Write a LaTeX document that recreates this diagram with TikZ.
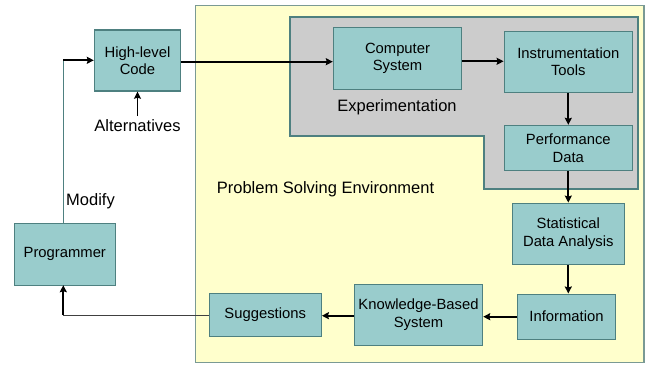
\documentclass[tikz,border=0pt]{standalone}
\usepackage{fontspec}
\setmainfont{Liberation Sans}
\usetikzlibrary{arrows.meta}
\definecolor{boxfill}{HTML}{99CCCC}
\definecolor{boxline}{HTML}{4E8080}
\definecolor{envfill}{HTML}{FFFFCC}
\definecolor{envline}{HTML}{7A9A94}
\definecolor{expfill}{HTML}{CCCCCC}
\tikzset{
  block/.style={draw=boxline, line width=1.4pt, fill=boxfill, inner sep=0pt,
    align=center, font=\fontsize{14.8}{17.5}\selectfont},
  label text/.style={inner sep=0pt, font=\fontsize{16.5}{19}\selectfont},
  flow/.style={line width=1.9pt, -{Stealth[length=7pt,width=7pt,inset=1pt]}},
  plain/.style={line width=1pt, draw=boxline},
}
\begin{document}
\begin{tikzpicture}[x=1pt,y=-1pt]
\useasboundingbox (0,0) rectangle (647,364);
% problem solving environment
\draw[envline, line width=1.4pt, fill=envfill] (195.5,5.5) rectangle (644,362.5);
% experimentation area
\draw[boxline, line width=1.4pt, fill=expfill]
  (290,17) -- (638,17) -- (638,189) -- (484,189) -- (484,136) -- (290,136) -- cycle;

% blocks
\node[block, minimum width=86pt, minimum height=61pt] (hlc) at (137.5,60.5) {High-level\\Code};
\node[block, minimum width=128pt, minimum height=62pt] (cs) at (397.5,58.5) {Computer\\System};
\node[block, minimum width=128pt, minimum height=61pt] (it) at (568.3,61.7) {Instrumentation\\Tools};
\node[block, minimum width=128pt, minimum height=45pt] (pd) at (568.3,148) {Performance\\Data};
\node[block, minimum width=112pt, minimum height=61pt] (sda) at (568.3,233.8) {Statistical\\Data Analysis};
\node[block, minimum width=98pt, minimum height=45pt] (info) at (566.5,316.7) {Information};
\node[block, minimum width=128pt, minimum height=61pt] (kbs) at (418.5,314.8) {Knowledge-Based\\System};
\node[block, minimum width=112pt, minimum height=43pt] (sug) at (265.2,315) {Suggestions};
\node[block, minimum width=101pt, minimum height=62pt] (prog) at (64.8,254.2) {Programmer};

% free labels
\node[label text] (alt) at (137.5,125.5) {Alternatives};
\node[label text] (exp) at (397,107) {Experimentation};
\node[label text] (pse) at (325.5,189) {Problem Solving Environment};
\node[label text, anchor=west] (mod) at (66,201.5) {Modify};

% connectors
\coordinate (up) at (63.3,60.3);
\coordinate (down) at (63.3,315);
\draw[plain] (63.3,223.3) -- (up);
\draw[flow] (up) -- (hlc.west |- up);
\draw[flow] (alt.north) ++(0,-3) -- (hlc.south);
\draw[flow] (hlc.east |- 0,61.7) -- (cs.west |- 0,61.7);
\draw[flow] (cs.east |- 0,61.3) -- (it.west |- 0,61.3);
\draw[flow] (it.south) -- (pd.north);
\draw[flow] (pd.south) -- (sda.north);
\draw[flow] (sda.south) -- (info.north -| sda.south);
\draw[flow] (info.west) -- (kbs.east |- info.west);
\draw[flow] (kbs.west |- 0,315.7) -- (sug.east |- 0,315.7);
\draw[line width=1pt, black!75] (sug.west) -- (down);
\draw[flow] (down) -- (63.3,285.2);
\end{tikzpicture}
\end{document}
